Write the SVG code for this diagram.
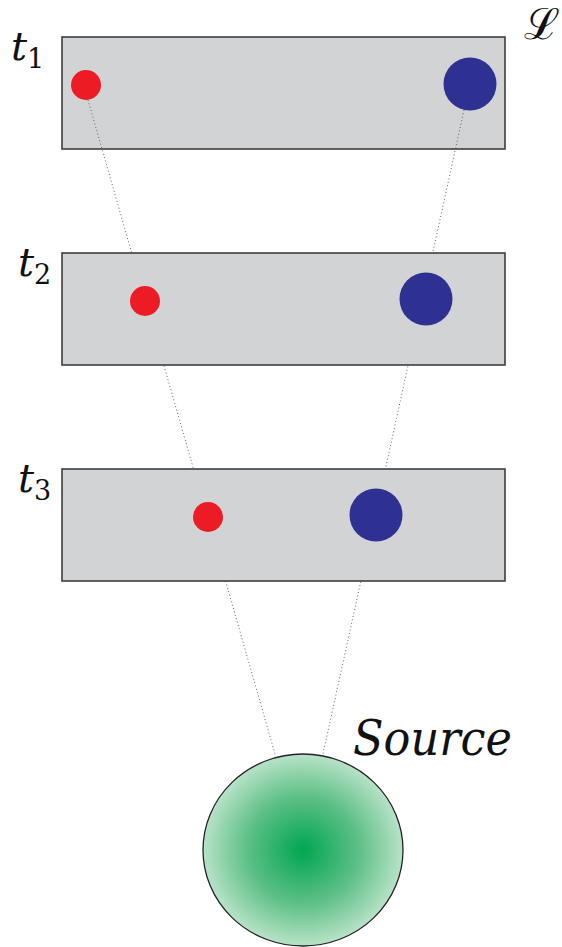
<svg xmlns="http://www.w3.org/2000/svg" width="562" height="947" viewBox="0 0 562 947">
  <style>
    .layer { fill: #d1d3d4; stroke: #333; stroke-width: 1.5; }
    .red { fill: #ed1c24; }
    .blue { fill: #2e3192; }
    .ray { fill: none; stroke: #444; stroke-width: 0.9; stroke-dasharray: 0.9 2.6; }
  </style>
  <defs>
    <radialGradient id="glow" cx="50%" cy="50%" r="50%">
      <stop offset="0" stop-color="#00a651"/>
      <stop offset="0.55" stop-color="#5cbf85"/>
      <stop offset="1" stop-color="#b8e2c8"/>
    </radialGradient>
  </defs>

  <g id="layer-t1">
    <rect class="layer" x="62" y="37" width="443" height="112"/>
  </g>

  <g id="connectors">
    <line class="ray" x1="88" y1="100" x2="275" y2="754"/>
    <line class="ray" x1="464" y1="110" x2="323" y2="754"/>
  </g>

  <g id="layer-t2">
    <rect class="layer" x="62" y="253" width="443" height="112"/>
  </g>
  <g id="layer-t3">
    <rect class="layer" x="62" y="469" width="443" height="112"/>
  </g>

  <g id="particles-t1">
    <circle class="red" cx="86" cy="85" r="15"/>
    <circle class="blue" cx="470" cy="84" r="26.5"/>
  </g>
  <g id="particles-t2">
    <circle class="red" cx="145" cy="301" r="15"/>
    <circle class="blue" cx="426" cy="299" r="26.5"/>
  </g>
  <g id="particles-t3">
    <circle class="red" cx="208" cy="517" r="15"/>
    <circle class="blue" cx="376" cy="515" r="26.5"/>
  </g>

  <g id="source">
    <ellipse cx="303" cy="850" rx="100" ry="96" fill="url(#glow)" stroke="#222" stroke-width="1.3"/>
    <text font-family="DejaVu Serif, serif" font-style="italic" fill="#111" x="353" y="755" font-size="48" textLength="159" lengthAdjust="spacingAndGlyphs">Source</text>
  </g>

  <g id="labels" font-family="DejaVu Serif, serif" fill="#111">
    <text x="11" y="60" font-size="40"><tspan font-style="italic">t</tspan><tspan font-size="27" dy="8">1</tspan></text>
    <text x="18" y="276" font-size="40"><tspan font-style="italic">t</tspan><tspan font-size="27" dy="8">2</tspan></text>
    <text x="18" y="492" font-size="40"><tspan font-style="italic">t</tspan><tspan font-size="27" dy="8">3</tspan></text>
    <text font-size="43" x="524" y="39">ℒ</text>
  </g>
</svg>
